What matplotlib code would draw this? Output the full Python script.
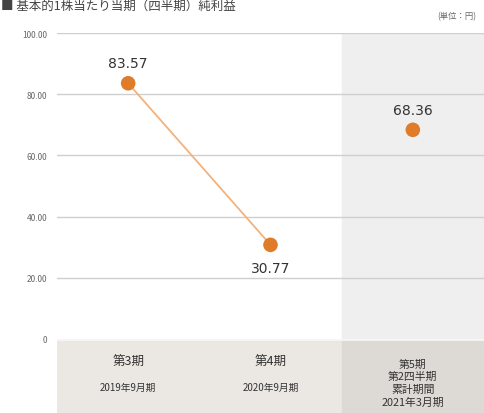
import matplotlib.pyplot as plt

plt.rcParams['font.family'] = ['Noto Sans CJK JP', 'DejaVu Sans']

periods = ['第3期', '第4期', '第5期\n第2四半期\n累計期間']
dates = ['2019年9月期', '2020年9月期', '2021年3月期']
eps = [83.57, 30.77, 68.36]
yticks = [0, 20, 40, 60, 80, 100]
ytick_labels = ['0', '20.00', '40.00', '60.00', '80.00', '100.00']

fig = plt.figure(figsize=(4.84, 4.14), dpi=100)
W, H = 484, 414
x0 = 57
ax = fig.add_axes([x0 / W, 74 / H, 1 - x0 / W, (340 - 34) / H])
ax.set_xlim(-0.5, 2.5)
ax.set_ylim(0, 100)

# shaded column for the current period
ax.axvspan(1.5, 2.5, color='#efefef', zorder=0)
for t in yticks[1:]:
    ax.axhline(t, color='#cfcfcf', lw=1, zorder=1)

ax.plot([0, 1], eps[:2], color='#f3b27c', lw=1.3, zorder=2)
ax.scatter(range(3), eps, s=110, color='#e07b2a', zorder=3, edgecolors='none')
for i, v in enumerate(eps):
    dy = -7.5 if i == 1 else 6.5
    ax.text(i, v + dy, '%.2f' % v, ha='center', va='center', fontsize=10,
            color='#333333', family=['DejaVu Sans'])

ax.set_yticks(yticks)
ax.set_yticklabels(ytick_labels, fontsize=6, color='#666666')
ax.tick_params(axis='y', length=0, pad=7)
ax.set_xticks([])
for s in ax.spines.values():
    s.set_visible(False)

# category band
bx = fig.add_axes([x0 / W, 0, 1 - x0 / W, 74 / H])
bx.set_xlim(-0.5, 2.5)
bx.set_ylim(0, 1)
bx.axvspan(-0.5, 1.5, color='#ebe8e4')
bx.axvspan(1.5, 2.5, color='#dddad6')
bx.axhline(1, color='#f7f6f4', lw=2)
bx.axis('off')
for i in range(2):
    bx.text(i, 0.70, periods[i], ha='center', va='center', fontsize=9, color='#333333')
    bx.text(i, 0.35, dates[i], ha='center', va='center', fontsize=7, color='#333333')
bx.text(2, 0.41, periods[2] + '\n' + dates[2], ha='center', va='center',
        fontsize=7.8, color='#333333', linespacing=1.3)

fig.text(476 / W, 1 - 17 / H, '(単位：円)', ha='right', va='center', fontsize=6, color='#666666')
fig.text(1 / W, 1 - 1 / H, '■ 基本的1株当たり当期（四半期）純利益', ha='left', va='top',
         fontsize=9, color='#444444')

plt.savefig('out.png', dpi=100)
